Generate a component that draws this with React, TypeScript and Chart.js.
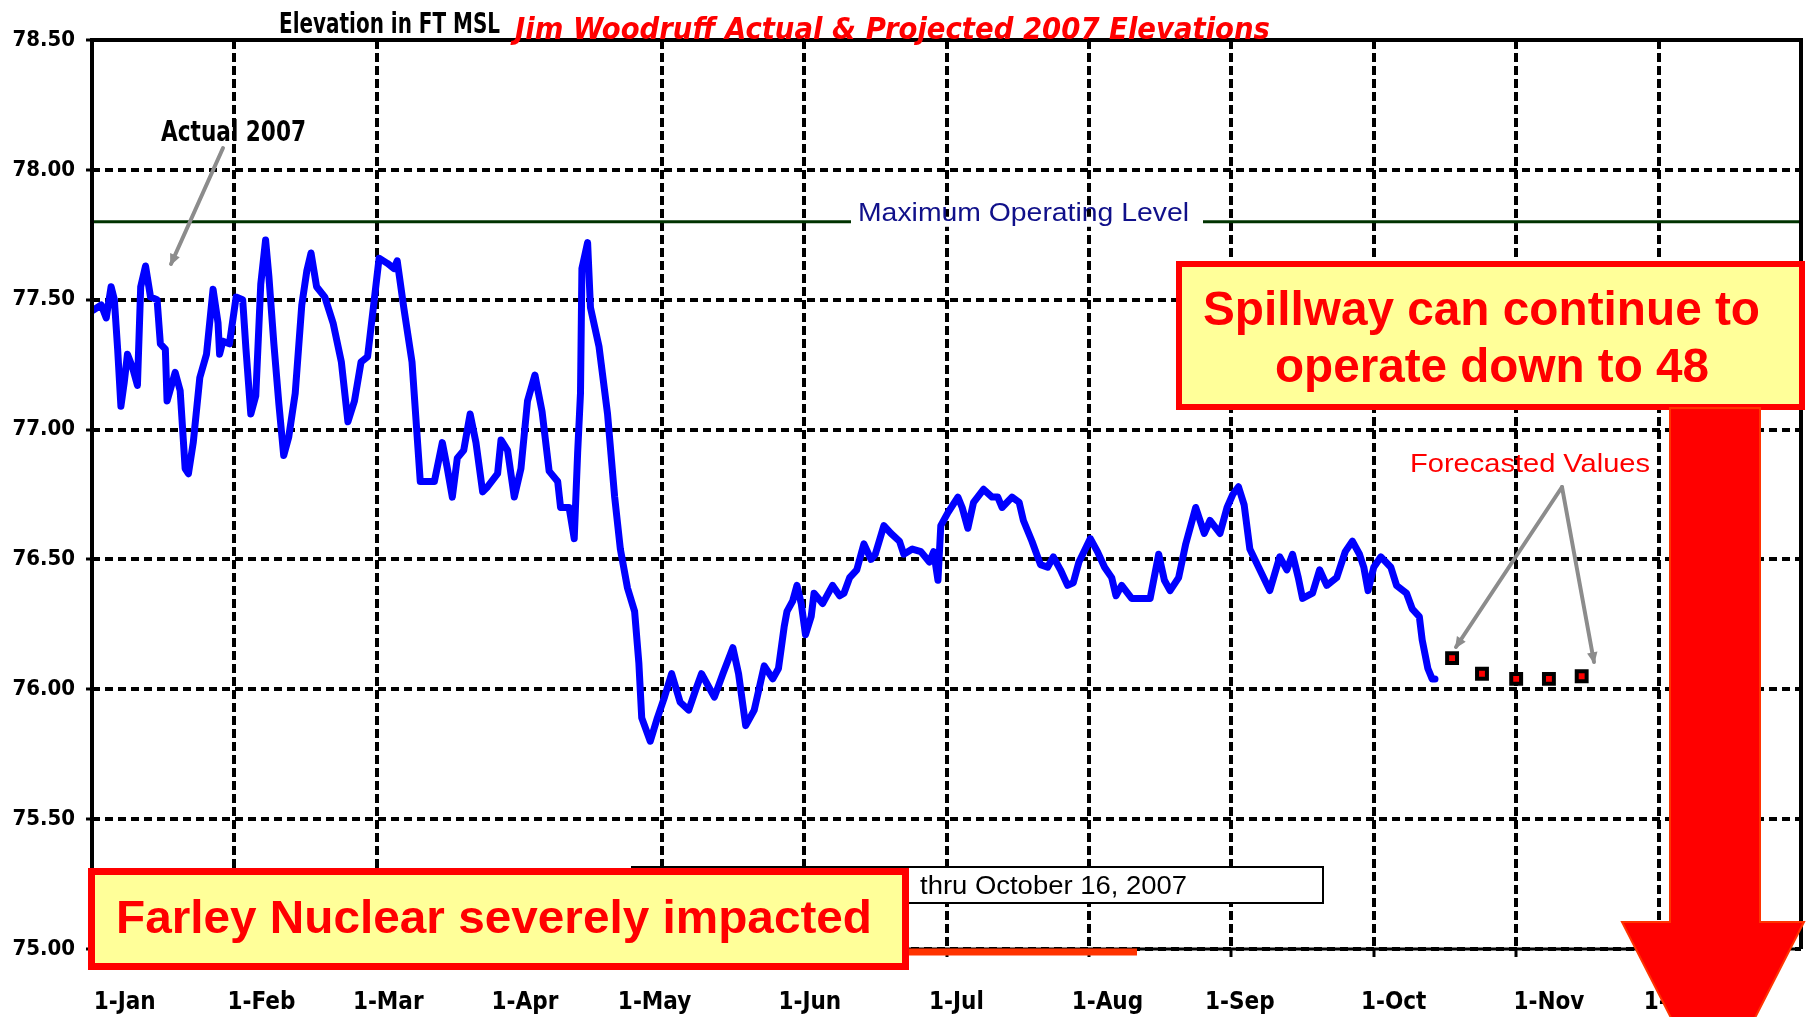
import React, { useEffect, useRef } from "react";
import { Chart, registerables } from "chart.js";

Chart.register(...registerables);

// ---------- data ----------
const monthLabels = ["1-Jan", "1-Feb", "1-Mar", "1-Apr", "1-May", "1-Jun", "1-Jul", "1-Aug", "1-Sep", "1-Oct", "1-Nov", "1-Dec"];
const monthLabelPos = [0.23, 1.19, 2.08, 3.04, 3.95, 5.04, 6.07, 7.13, 8.06, 9.14, 10.23, 11.14];
const gridMonths = [0, 1, 2, 3, 4, 5, 6, 7, 8, 9, 10, 11];
const hiddenGridMonths = [3];
const yMin = 75.0;
const yMax = 78.5;
const yStep = 0.5;
const maxOperatingLevel = 77.8;

// x = months since 1-Jan, y = elevation (ft MSL)
const actualX = [
  0.01, 0.065, 0.1, 0.134, 0.157, 0.18, 0.203, 0.226, 0.249, 0.284, 0.319, 0.342, 0.376, 0.411, 0.457, 0.48, 0.515, 0.527,
  0.584, 0.619, 0.654, 0.677, 0.711, 0.757, 0.804, 0.85, 0.885, 0.896, 0.919, 0.965, 1.012, 1.058, 1.081, 1.115, 1.15, 1.185,
  1.219, 1.242, 1.277, 1.312, 1.346, 1.381, 1.427, 1.473, 1.508, 1.538, 1.577, 1.635, 1.693, 1.751, 1.797, 1.843, 1.889, 1.935,
  1.982, 2.016, 2.074, 2.12, 2.143, 2.189, 2.247, 2.305, 2.351, 2.404, 2.46, 2.495, 2.53, 2.565, 2.61, 2.655, 2.696, 2.743,
  2.778, 2.848, 2.872, 2.918, 2.965, 3.012, 3.058, 3.11, 3.16, 3.21, 3.27, 3.29, 3.35, 3.386, 3.41, 3.43, 3.44, 3.48, 3.5,
  3.56, 3.62, 3.67, 3.71, 3.76, 3.81, 3.84, 3.86, 3.92, 3.97, 4.02, 4.07, 4.13, 4.19, 4.24, 4.28, 4.37, 4.43, 4.5, 4.54, 4.59,
  4.65, 4.72, 4.78, 4.82, 4.86, 4.88, 4.92, 4.95, 4.98, 5.01, 5.05, 5.07, 5.13, 5.2, 5.25, 5.28, 5.32, 5.37, 5.42, 5.47, 5.5,
  5.56, 5.61, 5.67, 5.7, 5.76, 5.82, 5.88, 5.91, 5.94, 5.96, 6.01, 6.08, 6.11, 6.15, 6.19, 6.26, 6.32, 6.36, 6.39, 6.46, 6.51,
  6.54, 6.6, 6.66, 6.71, 6.75, 6.8, 6.85, 6.89, 6.93, 7.01, 7.06, 7.11, 7.16, 7.19, 7.23, 7.3, 7.43, 7.49, 7.53, 7.57, 7.63,
  7.68, 7.75, 7.81, 7.85, 7.92, 7.97, 8.01, 8.05, 8.09, 8.13, 8.2, 8.27, 8.34, 8.39, 8.43, 8.47, 8.5, 8.57, 8.62, 8.67, 8.74,
  8.8, 8.85, 8.9, 8.93, 8.96, 9.0, 9.05, 9.12, 9.16, 9.23, 9.27, 9.32, 9.34, 9.38, 9.41, 9.43,
];
const actualY = [
  77.46, 77.48, 77.43, 77.55, 77.5, 77.31, 77.09, 77.18, 77.29, 77.24, 77.17, 77.55, 77.63, 77.51, 77.5, 77.33, 77.31, 77.11,
  77.22, 77.15, 76.85, 76.83, 76.95, 77.2, 77.29, 77.54, 77.41, 77.29, 77.34, 77.33, 77.51, 77.5, 77.31, 77.06, 77.13, 77.56,
  77.73, 77.59, 77.33, 77.1, 76.9, 76.97, 77.14, 77.48, 77.61, 77.68, 77.55, 77.51, 77.41, 77.26, 77.03, 77.11, 77.26, 77.28,
  77.5, 77.66, 77.64, 77.62, 77.65, 77.47, 77.26, 76.8, 76.8, 76.8, 76.95, 76.85, 76.74, 76.89, 76.92, 77.06, 76.95, 76.76,
  76.78, 76.83, 76.96, 76.92, 76.74, 76.85, 77.11, 77.21, 77.07, 76.84, 76.8, 76.7, 76.7, 76.58, 76.91, 77.14, 77.62, 77.72, 77.47,
  77.32, 77.06, 76.74, 76.54, 76.39, 76.3, 76.1, 75.89, 75.8, 75.89, 75.97, 76.06, 75.95, 75.92, 76.0, 76.06, 75.97, 76.06, 76.16, 76.06, 75.86,
  75.92, 76.09, 76.04, 76.08, 76.24, 76.3, 76.34, 76.4, 76.33, 76.21, 76.28, 76.37, 76.33, 76.4, 76.36, 76.37, 76.43, 76.46, 76.56, 76.5, 76.52,
  76.63, 76.6, 76.57, 76.52, 76.54, 76.53, 76.49, 76.53, 76.42, 76.63, 76.68, 76.74, 76.7, 76.62, 76.72, 76.77, 76.74, 76.74, 76.7, 76.74, 76.72,
  76.65, 76.57, 76.48, 76.47, 76.51, 76.46, 76.4, 76.41, 76.49, 76.58, 76.53, 76.47, 76.43, 76.36, 76.4, 76.35, 76.35, 76.52, 76.42, 76.38, 76.43,
  76.56, 76.7, 76.6, 76.65, 76.6, 76.7, 76.75, 76.78, 76.71, 76.54, 76.46, 76.38, 76.51, 76.46, 76.52, 76.43, 76.35, 76.37, 76.46, 76.4, 76.43,
  76.53, 76.57, 76.52, 76.47, 76.38, 76.47, 76.51, 76.47, 76.4, 76.37, 76.31, 76.28, 76.19, 76.08, 76.04, 76.04,
];
const forecastX = [9.55, 9.76, 10.0, 10.23, 10.46];
const forecastY = [76.12, 76.06, 76.04, 76.04, 76.05];

// ---------- text ----------
const titleBlack = "Elevation in FT MSL";
const titleRed = "Jim Woodruff Actual & Projected 2007 Elevations";
const actualLabel = "Actual 2007";
const maxLevelLabel = "Maximum Operating Level";
const forecastLabel = "Forecasted Values";
const spillwayLine1 = "Spillway can continue to";
const spillwayLine2 = "operate down to 48";
const farleyText = "Farley Nuclear severely impacted";
const periodText = "thru October 16, 2007";

const NARROW = '"DejaVu Sans Condensed", "Liberation Sans Narrow", "DejaVu Sans", Arial, sans-serif';
const HEAVY = '"DejaVu Sans", "Liberation Sans", Arial, sans-serif';
const SANS = '"Liberation Sans", Arial, Helvetica, sans-serif';

function fitText(ctx: CanvasRenderingContext2D, text: string, left: number, right: number, cy: number, font: string, color: string) {
  ctx.save();
  ctx.font = font;
  ctx.fillStyle = color;
  ctx.textBaseline = "middle";
  ctx.textAlign = "left";
  const w = ctx.measureText(text).width;
  ctx.translate(left, cy);
  ctx.scale((right - left) / w, 1);
  ctx.fillText(text, 0, 0);
  ctx.restore();
}

function grayArrow(ctx: CanvasRenderingContext2D, x1: number, y1: number, x2: number, y2: number) {
  ctx.save();
  ctx.strokeStyle = "#8c8c8c";
  ctx.fillStyle = "#8c8c8c";
  ctx.lineWidth = 4;
  ctx.lineCap = "round";
  ctx.beginPath();
  ctx.moveTo(x1, y1);
  ctx.lineTo(x2, y2);
  ctx.stroke();
  const a = Math.atan2(y2 - y1, x2 - x1);
  const L = 11;
  ctx.beginPath();
  ctx.moveTo(x2 + 2 * Math.cos(a), y2 + 2 * Math.sin(a));
  ctx.lineTo(x2 - L * Math.cos(a - 0.5), y2 - L * Math.sin(a - 0.5));
  ctx.lineTo(x2 - L * Math.cos(a + 0.5), y2 - L * Math.sin(a + 0.5));
  ctx.closePath();
  ctx.fill();
  ctx.restore();
}

function textBox(ctx: CanvasRenderingContext2D, x: number, y: number, w: number, h: number, fill: string, stroke: string, lw: number) {
  ctx.save();
  ctx.fillStyle = fill;
  ctx.fillRect(x, y, w, h);
  ctx.strokeStyle = stroke;
  ctx.lineWidth = lw;
  ctx.strokeRect(x + lw / 2, y + lw / 2, w - lw, h - lw);
  ctx.restore();
}

const decorPlugin = {
  id: "decor",
  afterDraw(chart: any) {
    const ctx: CanvasRenderingContext2D = chart.ctx;
    const { left, right, top, bottom } = chart.chartArea;
    const ys = chart.scales.y;

    // frame
    ctx.save();
    ctx.strokeStyle = "#000";
    ctx.lineWidth = 4;
    ctx.beginPath();
    ctx.moveTo(left, bottom);
    ctx.lineTo(left, top);
    ctx.lineTo(right, top);
    ctx.lineTo(right, bottom);
    ctx.stroke();
    ctx.lineWidth = 3;
    ctx.beginPath();
    ctx.moveTo(left, bottom);
    ctx.lineTo(right, bottom);
    ctx.stroke();
    ctx.restore();

    // titles
    fitText(ctx, titleBlack, 279, 500, 26, `bold 28px ${NARROW}`, "#000");
    fitText(ctx, titleRed, 515, 1270, 31, `italic bold 30px ${HEAVY}`, "#FF0000");

    // Actual 2007
    fitText(ctx, actualLabel, 161, 306, 134, `bold 28px ${NARROW}`, "#000");
    grayArrow(ctx, 223, 148, 171, 264);

    // Max operating level label
    const yMax0 = ys.getPixelForValue(maxOperatingLevel);
    ctx.save();
    ctx.fillStyle = "#fff";
    ctx.fillRect(851, yMax0 - 5, 352, 10);
    ctx.restore();
    fitText(ctx, maxLevelLabel, 858, 1189, 214, `26px ${SANS}`, "#10108a");

    // forecast label + arrows
    fitText(ctx, forecastLabel, 1410, 1650, 465, `25px ${SANS}`, "#FF0000");
    grayArrow(ctx, 1562, 487, 1456, 647);
    grayArrow(ctx, 1562, 487, 1594, 662);

    // period box
    textBox(ctx, 631, 866, 693, 38, "#fff", "#000", 2);
    fitText(ctx, periodText, 920, 1187, 887, `26px ${SANS}`, "#000");

    // orange line
    ctx.save();
    ctx.strokeStyle = "#FF3300";
    ctx.lineWidth = 7;
    ctx.beginPath();
    ctx.moveTo(905, 952);
    ctx.lineTo(1137, 952);
    ctx.stroke();
    ctx.restore();

    // Farley box
    textBox(ctx, 88, 868, 821, 102, "#FFFF99", "#FF0000", 7);
    fitText(ctx, farleyText, 116, 872, 920, `bold 46px ${SANS}`, "#FF0000");

    // Spillway box
    textBox(ctx, 1176, 261, 629, 149, "#FFFF99", "#FF0000", 6);
    fitText(ctx, spillwayLine1, 1203, 1760, 312, `bold 48px ${SANS}`, "#FF0000");
    fitText(ctx, spillwayLine2, 1275, 1709, 369, `bold 48px ${SANS}`, "#FF0000");

    // big red arrow
    ctx.save();
    ctx.fillStyle = "#FF0000";
    ctx.strokeStyle = "#FF3300";
    ctx.lineWidth = 2;
    ctx.beginPath();
    ctx.moveTo(1670, 408);
    ctx.lineTo(1760, 408);
    ctx.lineTo(1760, 922);
    ctx.lineTo(1804, 922);
    ctx.lineTo(1713, 1100);
    ctx.lineTo(1622, 922);
    ctx.lineTo(1670, 922);
    ctx.closePath();
    ctx.fill();
    ctx.stroke();
    ctx.restore();
  },
};

export default function App() {
  const canvasRef = useRef<HTMLCanvasElement | null>(null);

  useEffect(() => {
    const canvas = canvasRef.current;
    if (!canvas) return;
    const yTickValues: number[] = [];
    for (let v = yMin; v <= yMax + 1e-9; v += yStep) yTickValues.push(Math.round(v * 100) / 100);

    const chart = new Chart(canvas, {
      type: "line",
      data: {
        datasets: [
          {
            label: "Actual 2007",
            data: actualX.map((x, i) => ({ x, y: actualY[i] })),
            borderColor: "#0000FF",
            borderWidth: 7,
            pointRadius: 0,
            tension: 0,
            borderJoinStyle: "round",
            borderCapStyle: "round",
            fill: false,
          },
          {
            label: "Forecasted Values",
            data: forecastX.map((x, i) => ({ x, y: forecastY[i] })),
            showLine: false,
            pointStyle: "rect",
            pointRadius: 7,
            pointBackgroundColor: "#FF0000",
            pointBorderColor: "#000",
            pointBorderWidth: 4,
          },
          {
            label: "Maximum Operating Level",
            data: [
              { x: 0, y: maxOperatingLevel },
              { x: 12, y: maxOperatingLevel },
            ],
            borderColor: "#003300",
            borderWidth: 3,
            pointRadius: 0,
          },
        ],
      },
      options: {
        responsive: false,
        devicePixelRatio: 1,
        animation: false,
        layout: { padding: { top: 40, right: 13, left: 0, bottom: 0 } },
        plugins: { legend: { display: false }, title: { display: false }, tooltip: { enabled: false } },
        scales: {
          x: {
            type: "linear",
            position: "bottom",
            weight: 0,
            min: 0,
            max: 12,
            afterBuildTicks: (axis: any) => {
              axis.ticks = gridMonths.map((v) => ({ value: v }));
            },
            afterFit: (axis: any) => {
              axis.height = 10;
            },
            ticks: { display: false },
            grid: {
              color: (c: any) => (c.tick && hiddenGridMonths.includes(c.tick.value) ? "rgba(0,0,0,0)" : "#000"),
              lineWidth: 4,
              tickLength: 8,
              tickWidth: 3,
            },
            border: { display: false, dash: [9, 4] },
          },
          xLabels: {
            type: "linear",
            position: "bottom",
            weight: 1,
            min: 0,
            max: 12,
            afterBuildTicks: (axis: any) => {
              axis.ticks = monthLabelPos.map((v) => ({ value: v }));
            },
            afterFit: (axis: any) => {
              axis.height = 58;
            },
            ticks: {
              autoSkip: false,
              maxRotation: 0,
              minRotation: 0,
              padding: 29,
              color: "#000",
              font: { family: NARROW, size: 24, weight: "bold" },
              callback: (_v: any, i: number) => monthLabels[i],
            },
            grid: { display: false, drawTicks: false },
            border: { display: false },
          },
          y: {
            type: "linear",
            min: yMin,
            max: yMax,
            afterBuildTicks: (axis: any) => {
              axis.ticks = yTickValues.map((v) => ({ value: v }));
            },
            afterFit: (axis: any) => {
              axis.width = 92;
            },
            ticks: {
              padding: 11,
              color: "#000",
              font: { family: NARROW, size: 22, weight: "bold" },
              callback: (v: any) => Number(v).toFixed(2),
            },
            grid: { color: "#000", lineWidth: 4, tickLength: 6, tickWidth: 3 },
            border: { display: false, dash: [8, 5] },
          },
        },
      },
      plugins: [decorPlugin],
    } as any);

    return () => chart.destroy();
  }, []);

  return (
    <div style={{ position: "absolute", left: 0, top: 0, width: 1814, height: 1017, background: "#fff", overflow: "hidden" }}>
      <canvas ref={canvasRef} width={1814} height={1017} style={{ display: "block", width: 1814, height: 1017 }} />
    </div>
  );
}
